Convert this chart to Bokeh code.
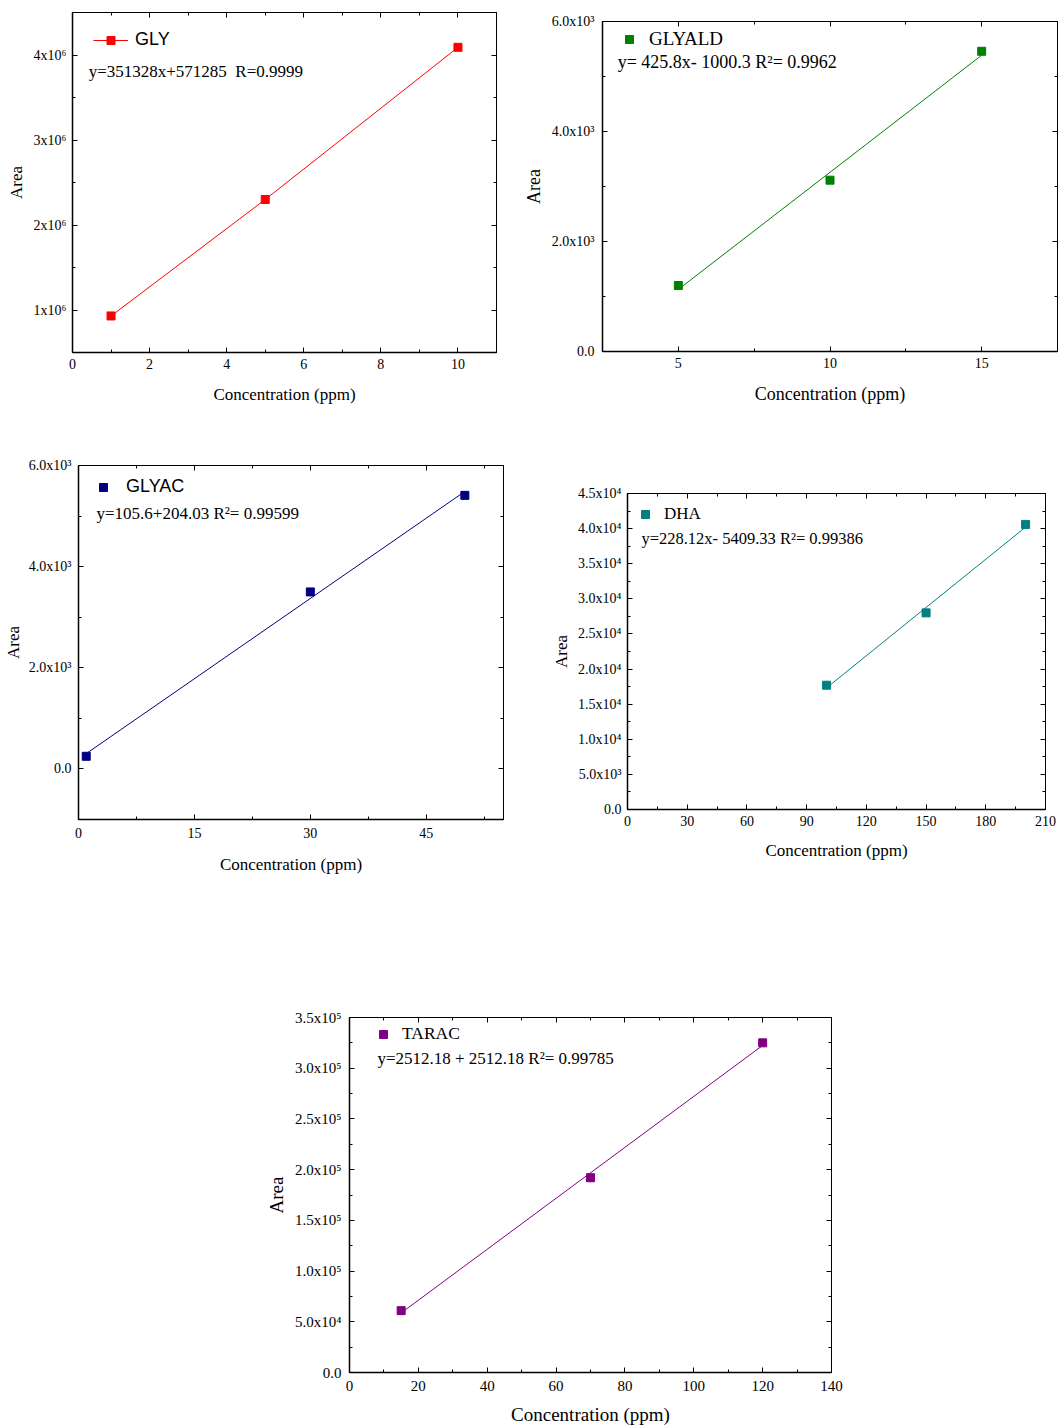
import numpy as np
from bokeh.plotting import figure
from bokeh.models import (Range1d, FixedTicker, LinearAxis, Legend, LegendItem,
                          Label, Spacer)
from bokeh.layouts import column, row
from bokeh.embed import file_html
from bokeh.resources import INLINE

SERIF = "Liberation Serif"
SANS = "Liberation Sans"

# ---------------- data ----------------
# GLY
gly_x = [1, 5, 10]
gly_y = [0.93e6, 2.30e6, 4.09e6]
gly_xticks = [0, 2, 4, 6, 8, 10]
gly_xminor = [1, 3, 5, 7, 9, 11]
gly_yticks = [1e6, 2e6, 3e6, 4e6]
gly_ylabels = ["1x10⁶", "2x10⁶", "3x10⁶", "4x10⁶"]
gly_yminor = [0.5e6, 1.5e6, 2.5e6, 3.5e6, 4.5e6]
gly_eq = "y=351328x+571285\u00a0 R=0.9999"

# GLYALD
glyald_x = [5, 10, 15]
glyald_y = [1200, 3115, 5458]
glyald_xticks = [5, 10, 15]
glyald_xminor = [2.5, 7.5, 12.5, 17.5]
glyald_yticks = [0, 2000, 4000, 6000]
glyald_ylabels = ["0.0", "2.0x10³", "4.0x10³", "6.0x10³"]
glyald_yminor = [1000, 3000, 5000]
glyald_eq = "y= 425.8x- 1000.3 R²= 0.9962"

# GLYAC
glyac_x = [1, 30, 50]
glyac_y = [250, 3500, 5410]
glyac_xticks = [0, 15, 30, 45]
glyac_xminor = [7.5, 22.5, 37.5, 52.5]
glyac_yticks = [0, 2000, 4000, 6000]
glyac_ylabels = ["0.0", "2.0x10³", "4.0x10³", "6.0x10³"]
glyac_yminor = [-1000, 1000, 3000, 5000]
glyac_eq = "y=105.6+204.03 R²= 0.99599"

# DHA
dha_x = [100, 150, 200]
dha_y = [17700, 28000, 40600]
dha_xticks = [0, 30, 60, 90, 120, 150, 180, 210]
dha_xminor = [15, 45, 75, 105, 135, 165, 195]
dha_yticks = [0, 5000, 10000, 15000, 20000, 25000, 30000, 35000, 40000, 45000]
dha_ylabels = ["0.0", "5.0x10³", "1.0x10⁴", "1.5x10⁴", "2.0x10⁴", "2.5x10⁴",
               "3.0x10⁴", "3.5x10⁴", "4.0x10⁴", "4.5x10⁴"]
dha_yminor = [2500, 7500, 12500, 17500, 22500, 27500, 32500, 37500, 42500]
dha_eq = "y=228.12x- 5409.33 R²= 0.99386"

# TARAC
tarac_x = [15, 70, 120]
tarac_y = [61000, 192000, 325000]
tarac_xticks = [0, 20, 40, 60, 80, 100, 120, 140]
tarac_xminor = [10, 30, 50, 70, 90, 110, 130]
tarac_yticks = [0, 50000, 100000, 150000, 200000, 250000, 300000, 350000]
tarac_ylabels = ["0.0", "5.0x10⁴", "1.0x10⁵", "1.5x10⁵", "2.0x10⁵", "2.5x10⁵",
                 "3.0x10⁵", "3.5x10⁵"]
tarac_yminor = [25000, 75000, 125000, 175000, 225000, 275000, 325000]
tarac_eq = "y=2512.18 + 2512.18 R²= 0.99785"


def style_axis(ax, ticker, labels, font_size, standoff):
    ax.ticker = ticker
    if labels is not None:
        ax.major_label_overrides = {t: l for t, l in zip(ticker.ticks, labels)}
    ax.major_tick_in = 5
    ax.major_tick_out = 0
    ax.minor_tick_in = 3
    ax.minor_tick_out = 0
    ax.axis_line_color = "black"
    ax.axis_line_width = 1.5
    ax.major_tick_line_color = "black"
    ax.minor_tick_line_color = "black"
    ax.major_label_text_font = SERIF
    ax.major_label_text_font_size = font_size
    ax.major_label_text_color = "black"
    ax.major_label_standoff = standoff


def mirror(p, ticks, minor, side):
    ax = LinearAxis(ticker=FixedTicker(ticks=ticks, minor_ticks=minor),
                    major_label_overrides={t: "" for t in ticks},
                    major_tick_in=5, major_tick_out=0,
                    minor_tick_in=3, minor_tick_out=0,
                    major_label_standoff=0, axis_line_color="black",
                    axis_line_width=1)
    p.add_layout(ax, side)


def make_plot(W, H, bl, br, bt, bb, xr, yr, xt, xm, yt, yl, ym,
              x_std, xlab_std, y_std, ylab_std, ax_fs, tick_fs="14px"):
    p = figure(width=W, height=H, x_range=Range1d(*xr), y_range=Range1d(*yr),
               output_backend="svg", toolbar_location=None,
               min_border_left=bl, min_border_right=br,
               min_border_top=bt, min_border_bottom=bb)
    p.xgrid.visible = False
    p.ygrid.visible = False
    p.outline_line_color = "black"
    p.outline_line_width = 1
    p.background_fill_color = "white"
    p.border_fill_color = "white"
    style_axis(p.xaxis[0], FixedTicker(ticks=xt, minor_ticks=xm), None,
               tick_fs, x_std)
    style_axis(p.yaxis[0], FixedTicker(ticks=yt, minor_ticks=ym), yl,
               tick_fs, y_std)
    p.xaxis[0].axis_label = "Concentration (ppm)"
    p.yaxis[0].axis_label = "Area"
    for ax in (p.xaxis[0], p.yaxis[0]):
        ax.axis_label_text_font = SERIF
        ax.axis_label_text_font_style = "normal"
        ax.axis_label_text_font_size = ax_fs
        ax.axis_label_text_color = "black"
    p.xaxis[0].axis_label_standoff = xlab_std
    p.yaxis[0].axis_label_standoff = ylab_std
    mirror(p, xt, xm, "above")
    mirror(p, yt, ym, "right")
    return p


def add_legend(p, renderers, label, font, fs, loc, standoff, glyph_w=20):
    lg = Legend(items=[LegendItem(label=label, renderers=renderers)],
                location=loc, margin=0, padding=0,
                glyph_width=glyph_w, glyph_height=20, label_height=20,
                label_standoff=standoff,
                label_text_font=font, label_text_font_size=fs,
                label_text_color="black",
                border_line_color=None, background_fill_alpha=0)
    p.add_layout(lg)


def add_eq(p, x, y, text, fs):
    p.add_layout(Label(x=x, y=y, text=text, text_font=SERIF,
                       text_font_size=fs, text_baseline="middle",
                       text_color="black"))


def fit_line(p, xs, ys, color):
    k, b = np.polyfit(xs, ys, 1)
    fx = np.array([min(xs), max(xs)], dtype=float)
    p.line(fx, k * fx + b, line_color=color, line_width=1)


# ---------------- GLY ----------------
p1 = make_plot(520, 430, 72, 24, 12, 78, (0, 11), (0.5e6, 4.5e6),
               gly_xticks, gly_xminor, gly_yticks, gly_ylabels, gly_yminor,
               6, 13, 6, 5, "17px")
l1 = p1.line(gly_x, gly_y, line_color="#ff0000", line_width=1)
s1 = p1.scatter(gly_x, gly_y, marker="square", size=8, color="#ff0000")
add_legend(p1, [l1, s1], "GLY", SANS, "18px", (21, 302), 7, glyph_w=35)
add_eq(p1, 0.42, 3.81e6, gly_eq, "17px")

# ---------------- GLYALD ----------------
p2 = make_plot(538, 430, 81, 1, 21, 79, (2.5, 17.5), (0, 6000),
               glyald_xticks, glyald_xminor, glyald_yticks, glyald_ylabels,
               glyald_yminor, 6, 13, 8, 5, "18px")
fit_line(p2, glyald_x, glyald_y, "#008000")
s2 = p2.scatter(glyald_x, glyald_y, marker="square", size=8, color="#008000")
add_legend(p2, [s2], "GLYALD", SERIF, "19px", (17, 301), 10)
add_eq(p2, 3.0, 5255, glyald_eq, "18px")

# ---------------- GLYAC ----------------
p3 = make_plot(520, 470, 78, 17, 35, 81, (0, 55), (-1000, 6000),
               glyac_xticks, glyac_xminor, glyac_yticks, glyac_ylabels,
               glyac_yminor, 8, 14, 7, 3, "17px")
fit_line(p3, glyac_x, glyac_y, "#000080")
s3 = p3.scatter(glyac_x, glyac_y, marker="square", size=8, color="#000080")
add_legend(p3, [s3], "GLYAC", SANS, "18px", (15, 322), 13)
add_eq(p3, 2.33, 5050, glyac_eq, "17px")

# ---------------- DHA ----------------
p4 = make_plot(538, 470, 107, 13, 63, 91, (0, 210), (0, 45000),
               dha_xticks, dha_xminor, dha_yticks, dha_ylabels, dha_yminor,
               6, 12, 6, 4, "17px")
fit_line(p4, dha_x, dha_y, "#008080")
s4 = p4.scatter(dha_x, dha_y, marker="square", size=8, color="#008080")
add_legend(p4, [s4], "DHA", SERIF, "17px", (8, 285), 9)
add_eq(p4, 7.0, 38600, dha_eq, "16.5px")

# ---------------- TARAC ----------------
p5 = make_plot(600, 527, 89, 29, 117, 55, (0, 140), (0, 350000),
               tarac_xticks, tarac_xminor, tarac_yticks, tarac_ylabels,
               tarac_yminor, 8, 10, 8, 5, "19px", tick_fs="15px")
fit_line(p5, tarac_x, tarac_y, "#800080")
s5 = p5.scatter(tarac_x, tarac_y, marker="square", size=8, color="#800080")
add_legend(p5, [s5], "TARAC", SERIF, "17.5px", (24, 328), 9)
add_eq(p5, 8.1, 309700, tarac_eq, "17px")

layout = column(row(column(p1), column(p2)),
                row(column(p3), column(p4)),
                row(Spacer(width=260, height=527), column(p5)))

open("out.html", "w").write(file_html(layout, INLINE))
